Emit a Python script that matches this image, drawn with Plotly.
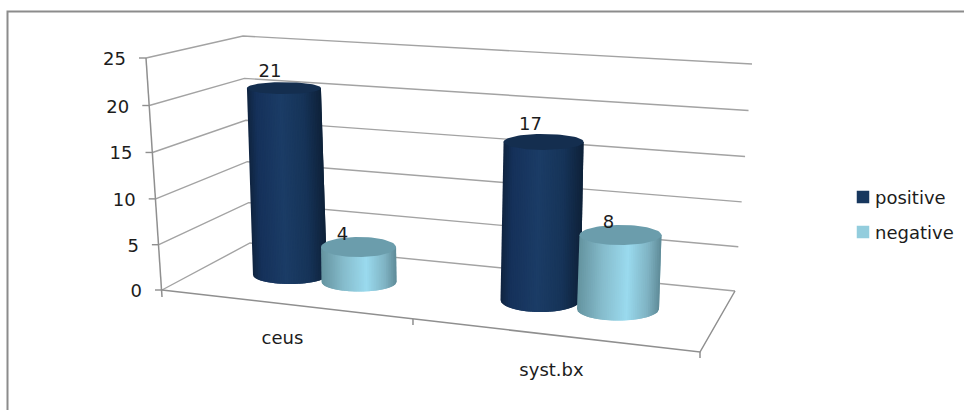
import numpy as np
import plotly.graph_objects as go

# Chart data
categories = ["ceus", "syst.bx"]
series_names = ["positive", "negative"]
positive = [21, 17]
negative = [4, 8]
value_ticks = [0, 5, 10, 15, 20, 25]

WIDTH, HEIGHT = 964, 410
AXIS_MAX = 25

GRID = "#a3a3a3"
AXIS = "#8f8f8f"
TEXT = "#1c1c1c"
FONT = "DejaVu Sans"
SWATCH = {"positive": "#17375e", "negative": "#93cddd"}
TOP_CAP = {"positive": "#142e4f", "negative": "#6b9dac"}
RAMP = {
    "positive": [(0, "#10243f"), (0.12, "#15315a"), (0.45, "#1b3c66"),
                 (0.75, "#163459"), (1, "#0e2139")],
    "negative": [(0, "#64939f"), (0.3, "#86bccc"), (0.6, "#9adaee"),
                 (0.85, "#7fb3c3"), (1, "#5f8b98")],
}

# Corners of the 3D box in canvas units: (zero level, top level)
FRONT_LEFT = ((162, 290), (146, 58))
BACK_LEFT = ((250, 243), (243, 36))
BACK_RIGHT = ((735, 291), (752, 64))
FRONT_RIGHT_FLOOR = (700, 352)

# Cylinder placement for each (category, series)
CYLINDERS = {
    (0, "positive"): dict(x=290, y=275, rx=37, ry_base=9, ry_top=6,
                          unit=8.9, lean=-0.29, dx=-14, dy=-16),
    (0, "negative"): dict(x=359, y=282, rx=37.5, ry_base=9.5, ry_top=10,
                          unit=8.75, lean=-0.12, dx=-16, dy=-12),
    (1, "positive"): dict(x=540.5, y=300, rx=40, ry_base=12, ry_top=8,
                          unit=9.3, lean=0.18, dx=-13, dy=-16),
    (1, "negative"): dict(x=618, y=309, rx=41, ry_base=11.5, ry_top=10,
                          unit=9.25, lean=0.31, dx=-12, dy=-12),
}
CATEGORY_LABELS = [(282.5, 339), (551.5, 371)]


def depth_fraction(value):
    """Share of the wall height used by a value, with slight foreshortening."""
    f = value / AXIS_MAX
    return f * (0.97 + 0.03 * f)


def on_edge(edge, value):
    f = depth_fraction(value)
    (x0, y0), (x1, y1) = edge
    return x0 + (x1 - x0) * f, y0 + (y1 - y0) * f


def hex_rgb(c):
    return np.array([int(c[i:i + 2], 16) for i in (1, 3, 5)], dtype=float)


def ramp_colour(stops, t):
    pos = [s[0] for s in stops]
    rgb = np.array([hex_rgb(s[1]) for s in stops])
    vals = [np.interp(t, pos, rgb[:, k]) for k in range(3)]
    return "rgb(%d,%d,%d)" % tuple(round(v) for v in vals)


def line_trace(xs, ys, colour, width):
    return go.Scatter(x=xs, y=ys, mode="lines", showlegend=False, hoverinfo="skip",
                      line=dict(color=colour, width=width))


def cylinder_traces(name, value, geo, slices=44):
    bx, by = geo["x"], geo["y"]
    tx = bx + geo["lean"] * value
    ty = by - geo["unit"] * value
    rx, ry_b, ry_t = geo["rx"], geo["ry_base"], geo["ry_top"]
    traces = []
    band = 2 / slices
    # Each band overlaps the next one, which paints over it and hides the seam.
    # The bands start at the cap's centre line so the cap fully covers their top.
    for t0 in np.linspace(-1, 1, slices, endpoint=False):
        s = np.linspace(t0, min(1, t0 + 2 * band), 6)
        arc = np.sqrt(np.clip(1 - s ** 2, 0, 1))
        top_x, top_y = tx + rx * s, np.full_like(s, ty)
        bot_x, bot_y = bx + rx * s, by + ry_b * arc
        colour = ramp_colour(RAMP[name], (t0 + band / 2 + 1) / 2)
        traces.append(go.Scatter(
            x=np.r_[top_x, bot_x[::-1], top_x[0]], y=np.r_[top_y, bot_y[::-1], top_y[0]],
            mode="lines", fill="toself", fillcolor=colour,
            line=dict(width=0),
            showlegend=False, hoverinfo="skip",
        ))
    theta = np.linspace(0, 2 * np.pi, 73)
    traces.append(go.Scatter(
        x=tx + rx * np.cos(theta), y=ty + ry_t * np.sin(theta),
        mode="lines", fill="toself", fillcolor=TOP_CAP[name],
        line=dict(width=0),
        name=name, showlegend=False, hoverinfo="skip",
    ))
    return traces, tx, ty


fig = go.Figure()

# Outer chart frame (open on the right and at the bottom)
fig.add_trace(line_trace([7.5, 7.5, WIDTH], [HEIGHT, 11.5, 11.5], "#8c8c8c", 2))

# Gridlines on the two walls
for tick in value_ticks:
    fx, fy = on_edge(FRONT_LEFT, tick)
    mx, my = on_edge(BACK_LEFT, tick)
    rx_, ry_ = on_edge(BACK_RIGHT, tick)
    fig.add_trace(line_trace([fx, mx, rx_], [fy, my, ry_], GRID, 1.4))
    fig.add_trace(line_trace([fx - 7, fx], [fy, fy], AXIS, 1.4))

# Value axis, floor outline and category ticks
fig.add_trace(line_trace(
    [FRONT_LEFT[1][0], FRONT_LEFT[0][0], FRONT_LEFT[0][0]],
    [FRONT_LEFT[1][1], FRONT_LEFT[0][1], FRONT_LEFT[0][1] + 7], AXIS, 1.5))
fig.add_trace(line_trace(
    [FRONT_LEFT[0][0], FRONT_RIGHT_FLOOR[0], BACK_RIGHT[0][0]],
    [FRONT_LEFT[0][1], FRONT_RIGHT_FLOOR[1], BACK_RIGHT[0][1]], AXIS, 1.5))
for share in (0.4665, 1.0):
    tx_ = FRONT_LEFT[0][0] + (FRONT_RIGHT_FLOOR[0] - FRONT_LEFT[0][0]) * share
    ty_ = FRONT_LEFT[0][1] + (FRONT_RIGHT_FLOOR[1] - FRONT_LEFT[0][1]) * share
    fig.add_trace(line_trace([tx_, tx_], [ty_, ty_ + 6], AXIS, 1.5))

# Cylinders, back to front within each category, then their value labels
label_x, label_y, label_text = [], [], []
for c in range(len(categories)):
    for name, values in zip(series_names, (positive, negative)):
        geo = CYLINDERS[(c, name)]
        traces, top_x, top_y = cylinder_traces(name, values[c], geo)
        fig.add_traces(traces)
        label_x.append(top_x + geo["dx"])
        label_y.append(top_y + geo["dy"])
        label_text.append(str(values[c]))

text_style = dict(family=FONT, size=18, color=TEXT)
fig.add_trace(go.Scatter(x=label_x, y=label_y, text=label_text, mode="text",
                         textposition="middle center", textfont=text_style,
                         showlegend=False, hoverinfo="skip"))

# Value axis labels
tick_xy = [on_edge(FRONT_LEFT, t) for t in value_ticks]
fig.add_trace(go.Scatter(
    x=[p[0] - 20 for p in tick_xy], y=[p[1] + 2.5 for p in tick_xy],
    text=[str(t) for t in value_ticks], mode="text",
    textposition="middle left", textfont=text_style,
    showlegend=False, hoverinfo="skip"))

# Category labels
fig.add_trace(go.Scatter(
    x=[p[0] for p in CATEGORY_LABELS], y=[p[1] for p in CATEGORY_LABELS],
    text=categories, mode="text", textposition="middle center",
    textfont=text_style, showlegend=False, hoverinfo="skip"))

# Legend
LEGEND_ROWS = {"positive": 197, "negative": 232}
for name in series_names:
    y = LEGEND_ROWS[name]
    fig.add_trace(go.Scatter(
        x=[863], y=[y], mode="markers", name=name, showlegend=False, hoverinfo="skip",
        marker=dict(symbol="square", size=12.5, color=SWATCH[name], line=dict(width=0))))
    fig.add_trace(go.Scatter(
        x=[875], y=[y + 2], text=[name], mode="text", textposition="middle right",
        textfont=text_style, showlegend=False, hoverinfo="skip"))

hidden = dict(visible=False, fixedrange=True)
fig.update_layout(
    width=WIDTH, height=HEIGHT, margin=dict(l=0, r=0, t=0, b=0),
    paper_bgcolor="white", plot_bgcolor="white", showlegend=False,
    xaxis=dict(range=[0, WIDTH], **hidden),
    yaxis=dict(range=[HEIGHT, 0], **hidden),
)

fig.write_html("out.html", config={"displayModeBar": False})
